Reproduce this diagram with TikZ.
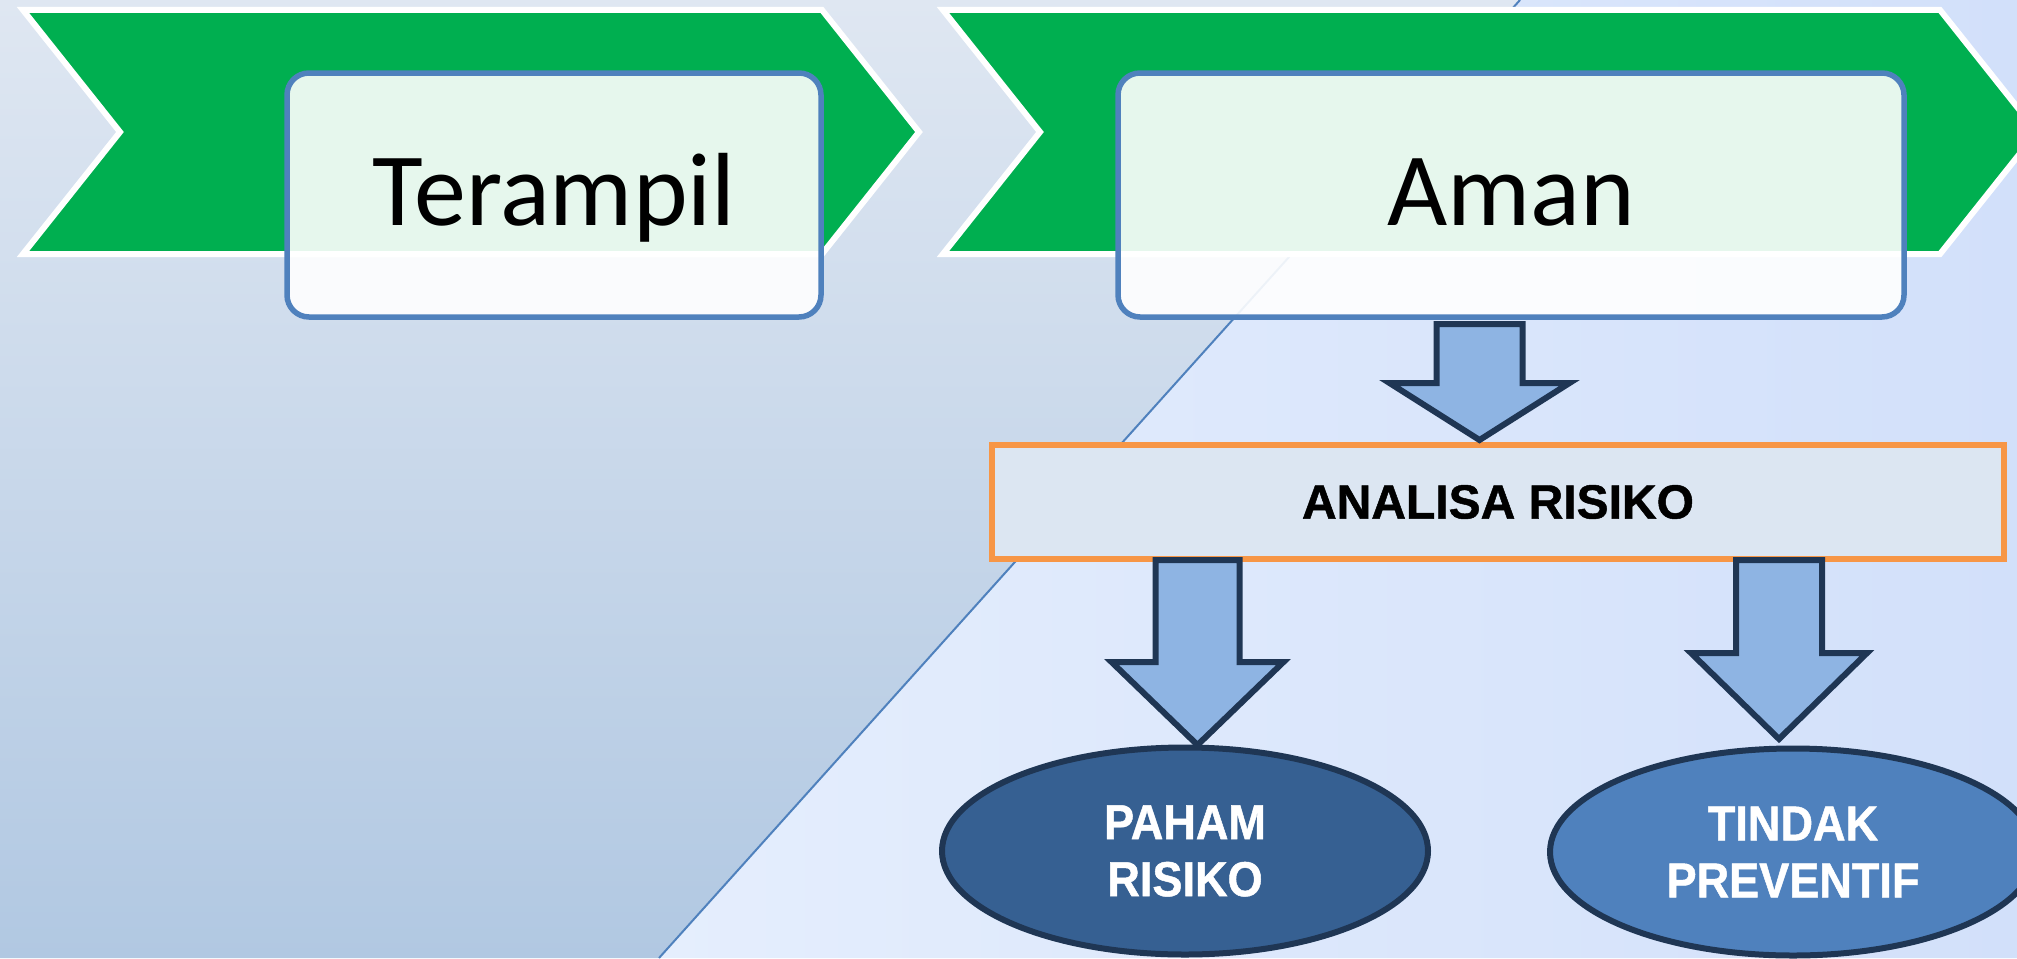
\documentclass[tikz,border=0pt]{standalone}
\usepackage{fontspec}
\setmainfont{Carlito}
\newfontfamily\robo[FakeStretch=0.92,FakeBold=1]{Liberation Sans}
\newfontfamily\robow[FakeBold=1]{Liberation Sans}
\usetikzlibrary{shapes.geometric}
\definecolor{bgtop}{HTML}{DFE7F2}
\definecolor{bgbot}{HTML}{B1C8E2}
\definecolor{bgrl}{HTML}{E5EEFD}
\definecolor{bgrr}{HTML}{D2E0FA}
\definecolor{chevgreen}{HTML}{00AF50}
\definecolor{boxblue}{HTML}{4F81BD}
\definecolor{riskfill}{HTML}{DCE6F2}
\definecolor{riskorange}{HTML}{F79646}
\definecolor{arrowfill}{HTML}{8EB4E3}
\definecolor{navy}{HTML}{1F3654}
\definecolor{pahamfill}{HTML}{366092}
\definecolor{tindakfill}{HTML}{4F81BD}
\newcommand\blkarrow[6]{%
  \draw[blockarrow] (#1-#2,#4) -- (#1+#2,#4) -- (#1+#2,#5) -- (#1+#3,#5)
    -- (#1,#6) -- (#1-#3,#5) -- (#1-#2,#5) -- cycle;}
\begin{document}
\begin{tikzpicture}[x=1pt,y=-1pt,
  chevron/.style={fill=chevgreen, draw=white, line width=6pt, line join=miter},
  stepbox/.style={draw=boxblue, line width=5.5pt, fill=white, fill opacity=0.9,
    text opacity=1, rounded corners=22pt, minimum height=244pt,
    font=\fontsize{104pt}{120pt}\selectfont, text height=60pt, text depth=0pt},
  riskbox/.style={draw=riskorange, line width=6pt, fill=riskfill,
    font=\robow\bfseries\fontsize{48pt}{52pt}\selectfont},
  outcome/.style={ellipse, draw=navy, line width=6pt, minimum width=486pt,
    minimum height=207pt, align=center, text=white,
    font=\robo\bfseries\fontsize{49pt}{57pt}\selectfont},
  blockarrow/.style={fill=arrowfill, draw=navy, line width=6pt, line join=miter}]
\useasboundingbox (0,0) rectangle (2017,958);
\clip (0,0) rectangle (2017,958);
% background
\shade[top color=bgtop, bottom color=bgbot] (0,0) -- (1520,0) -- (659,958) -- (0,958) -- cycle;
\shade[left color=bgrl, right color=bgrr] (1520,0) -- (2017,0) -- (2017,958) -- (659,958) -- cycle;
\draw[boxblue, line width=2pt] (1520,0) -- (659,958);
% chevrons
\draw[chevron] (23,10) -- (822,10) -- (919,132) -- (822,254) -- (23,254) -- (120,132) -- cycle;
\draw[chevron] (943,10) -- (1940,10) -- (2037,132) -- (1940,254) -- (943,254) -- (1040,132) -- cycle;
% boxes
\node[stepbox, minimum width=534pt] (terampil) at (554,195) {Terampil};
\node[stepbox, minimum width=786pt] (aman) at (1511,195) {Aman};
\node[riskbox, minimum width=1012pt, minimum height=114pt] (analisa) at (1498,502) {ANALISA RISIKO};
% outcomes
\node[outcome, fill=pahamfill] (paham) at (1185,851) {PAHAM\\RISIKO};
\node[outcome, fill=tindakfill] (tindak) at (1793,852) {TINDAK\\PREVENTIF};
% block arrows
\blkarrow{1479.5}{43}{90}{324}{383}{440}
\blkarrow{1197.5}{42}{86}{560}{662}{745}
\blkarrow{1779}{43}{88}{560}{653}{739}
\end{tikzpicture}
\end{document}
